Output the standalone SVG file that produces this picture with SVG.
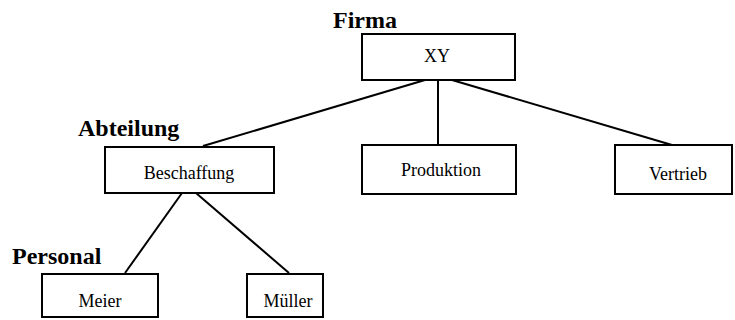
<svg xmlns="http://www.w3.org/2000/svg" width="735" height="320" viewBox="0 0 735 320">
  <style>
    .box { fill: #fff; stroke: #000; stroke-width: 2; }
    .lbl { font-family: "Liberation Serif", "Times New Roman", serif; font-size: 18px; text-anchor: middle; fill: #000; }
    .lvl { font-family: "Liberation Serif", "Times New Roman", serif; font-size: 24px; font-weight: bold; fill: #000; }
    .edge { stroke: #000; stroke-width: 2; fill: none; }
  </style>
  <rect width="735" height="320" fill="#fff"/>

  <!-- level captions -->
  <text class="lvl" x="333" y="28">Firma</text>
  <text class="lvl" x="78" y="136">Abteilung</text>
  <text class="lvl" x="12" y="264">Personal</text>

  <g id="connectors">
    <line class="edge" x1="425" y1="80" x2="203" y2="146"/>
    <line class="edge" x1="438" y1="80" x2="438" y2="145"/>
    <line class="edge" x1="452" y1="80" x2="672" y2="145"/>
    <line class="edge" x1="182" y1="193" x2="125" y2="273"/>
    <line class="edge" x1="196" y1="193" x2="289" y2="273"/>
  </g>

  <g id="xy">
    <rect class="box" x="362" y="34" width="153" height="46"/>
    <text class="lbl" x="437" y="62">XY</text>
  </g>
  <g id="beschaffung">
    <rect class="box" x="105" y="147" width="169" height="46"/>
    <text class="lbl" x="189" y="179">Beschaffung</text>
  </g>
  <g id="produktion">
    <rect class="box" x="362" y="145" width="154" height="49"/>
    <text class="lbl" x="441" y="176">Produktion</text>
  </g>
  <g id="vertrieb">
    <rect class="box" x="615" y="145" width="117" height="49"/>
    <text class="lbl" x="678" y="180">Vertrieb</text>
  </g>
  <g id="meier">
    <rect class="box" x="42" y="274" width="116" height="43"/>
    <text class="lbl" x="100" y="307">Meier</text>
  </g>
  <g id="mueller">
    <rect class="box" x="247" y="274" width="76" height="43"/>
    <text class="lbl" x="288" y="307">Müller</text>
  </g>
</svg>
